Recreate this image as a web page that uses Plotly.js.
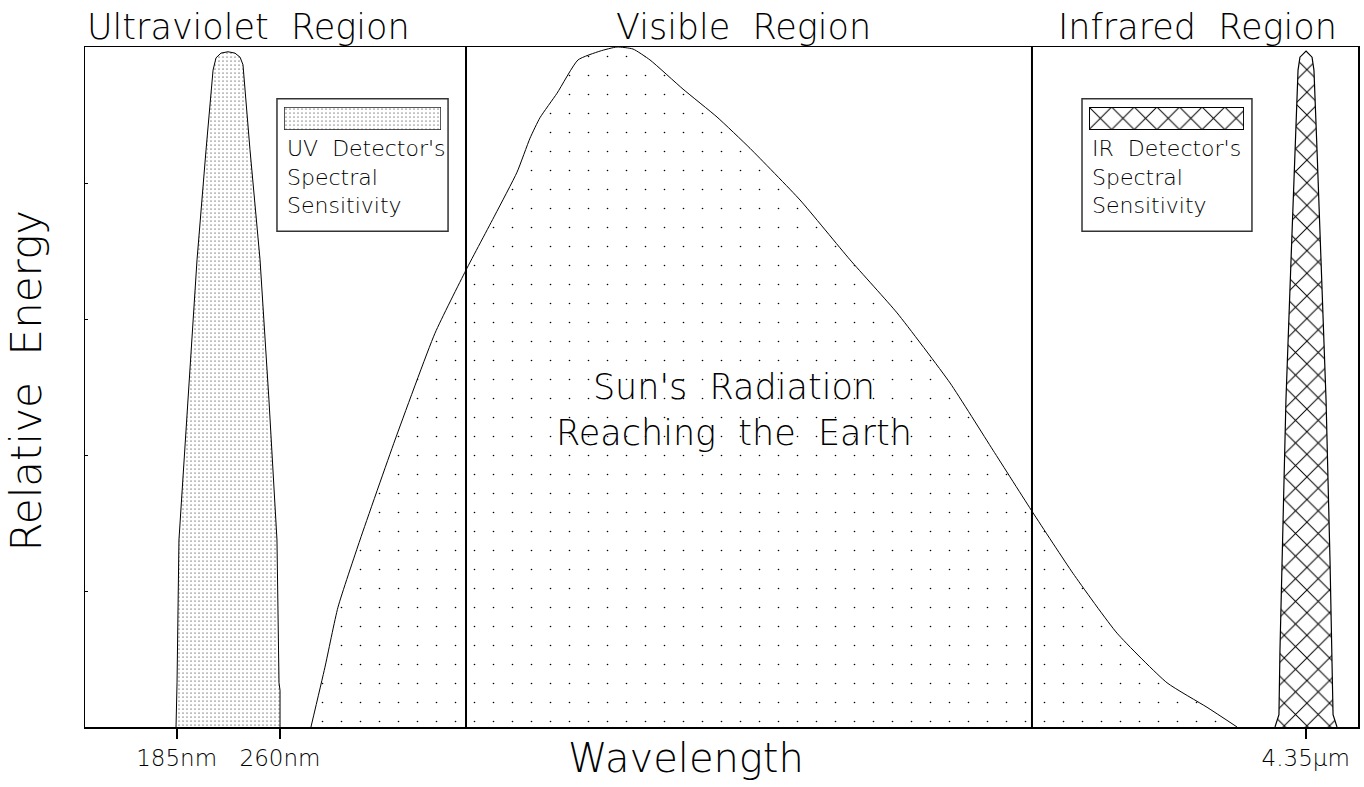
<!DOCTYPE html>
<html>
<head>
<meta charset="utf-8">
<script src="https://cdn.plot.ly/plotly-3.0.1.min.js"></script>
<style>
  html, body { margin: 0; padding: 0; background: #fff; }
  #chart { width: 1364px; height: 787px; }
</style>
</head>
<body>
<div id="chart"></div>
<script>
// Horizontal position along the (non-linear) wavelength axis, 0..1000 across the plot
// Relative energy, 0..100 (peak = 100)

// Sun's radiation reaching the Earth
const sunX = [177.5, 188.5, 198.7, 216.0, 243.5, 274.9, 299.3, 322.1, 339.4, 349.6, 357.4, 370.8, 387.3, 404.6, 417.9, 430.5, 443.8, 469.8, 496.5, 522.4, 561.7, 601.0, 637.9, 679.5, 713.3, 744.7, 776.1, 810.7, 850.0, 881.4, 905.0];
const sunY = [0, 8.8, 17.6, 27.5, 42.2, 57.9, 67.2, 75.3, 81.6, 86.6, 89.6, 93.2, 98.1, 99.4, 100, 99.7, 98.1, 93.8, 89.7, 85.1, 77.5, 68.7, 60.9, 50.6, 40.7, 31.5, 22.6, 13.8, 6.5, 2.9, 0];

// UV detector's spectral sensitivity (185nm - 260nm)
const uvX = [71.5, 72.3, 73.8, 80.9, 88.0, 95.1, 100.6, 102.9, 106.8, 112.3, 117.8, 121.8, 124.1, 129.6, 137.5, 144.5, 150.8, 152.4, 153.2, 153.2];
const uvY = [0, 6.5, 27.5, 48.1, 68.7, 84.9, 96.6, 98.4, 99.1, 99.3, 99.1, 98.5, 97.4, 84.9, 68.7, 48.1, 27.5, 6.5, 5.4, 0];

// IR detector's spectral sensitivity (4.35um)
const irX = [934.8, 937.9, 938.7, 940.3, 943.4, 947.4, 950.5, 952.9, 954.4, 959.2, 963.9, 965.4, 967.8, 970.9, 974.9, 978.0, 979.6, 980.4, 983.5];
const irY = [0, 1.8, 11.3, 24.6, 48.1, 68.7, 84.9, 96.6, 98.5, 99.4, 98.5, 96.6, 84.9, 68.7, 48.1, 24.6, 11.3, 1.8, 0];

// Axis tick marks and labels
const tickPos = [72.0, 153.2, 958.9];
const tickLabels = ['185nm', '260nm', '4.35\u03bcm'];
const energyTicks = [20, 40, 60, 80];

// Region boundaries and names
const regionEdges = [299.3, 743.9];
const regionNames = ['Ultraviolet  Region', 'Visible  Region', 'Infrared  Region'];

// Axis titles
const xTitle = 'Wavelength';
const yTitle = 'Relative  Energy';

// Legend key labels
const uvKeyText = "UV  Detector's<br>Spectral<br>Sensitivity";
const irKeyText = "IR  Detector's<br>Spectral<br>Sensitivity";
const sunText = "Sun's  Radiation<br>Reaching  the  Earth";

// unit square for legend swatches
const keyX = [0, 1, 1, 0, 0];
const keyY = [0, 0, 1, 1, 0];

const FONT = 'DejaVu Sans, Liberation Sans, sans-serif';
const FW = 200;

const uvPattern = { shape: '.', size: 4, solidity: 0.06, fgcolor: '#000', bgcolor: '#fff', fillmode: 'replace' };
const irPattern = { shape: 'x', size: 16, solidity: 0.12, fgcolor: '#000', bgcolor: '#fff', fillmode: 'replace' };
const sunPattern = { shape: '.', size: 19, solidity: 0.006, fgcolor: '#000', bgcolor: '#fff', fillmode: 'replace' };

const traces = [
  { x: sunX, y: sunY, type: 'scatter', mode: 'lines', fill: 'tozeroy',
    line: { color: '#000', width: 1, shape: 'spline', smoothing: 0.5 }, fillpattern: sunPattern, fillcolor: '#fff', hoverinfo: 'skip' },
  { x: uvX, y: uvY, type: 'scatter', mode: 'lines', fill: 'tozeroy',
    line: { color: '#000', width: 1 }, fillpattern: uvPattern, fillcolor: '#fff', hoverinfo: 'skip' },
  { x: irX, y: irY, type: 'scatter', mode: 'lines', fill: 'tozeroy',
    line: { color: '#000', width: 1.2 }, fillpattern: irPattern, fillcolor: '#fff', hoverinfo: 'skip' },
  { x: keyX, y: keyY, xaxis: 'x2', yaxis: 'y2', type: 'scatter', mode: 'lines', fill: 'toself',
    line: { color: '#222', width: 1.6 }, fillpattern: uvPattern, fillcolor: '#fff', hoverinfo: 'skip' },
  { x: keyX, y: keyY, xaxis: 'x3', yaxis: 'y3', type: 'scatter', mode: 'lines', fill: 'toself',
    line: { color: '#000', width: 2 }, fillpattern: irPattern, fillcolor: '#fff', hoverinfo: 'skip' }
];

const shapes = regionEdges.map(e => ({
  type: 'line', xref: 'x', yref: 'y', x0: e, x1: e, y0: 0, y1: 100,
  line: { color: '#000', width: 2 }
}));
shapes.push({ type: 'rect', xref: 'x', yref: 'y', x0: 150.8, x1: 285.2, y0: 72.9, y1: 92.4, line: { color: '#333', width: 1.5 } });
shapes.push({ type: 'rect', xref: 'x', yref: 'y', x0: 783.2, x1: 916.7, y0: 72.9, y1: 92.4, line: { color: '#333', width: 1.5 } });

const titleX = [128.8, 517.3, 873.9];
const annotations = regionNames.map((t, i) => ({
  text: t, x: titleX[i], xref: 'x', y: 1, yref: 'paper', yanchor: 'bottom', xanchor: 'center',
  showarrow: false, font: { family: FONT, size: 35, color: '#000', weight: FW }, yshift: -2
}));
annotations.push({ text: uvKeyText, x: 157.1, xref: 'x', y: 80.9, yref: 'y', xanchor: 'left', yanchor: 'middle', align: 'left',
  showarrow: false, font: { family: FONT, size: 22, color: '#000', weight: FW } });
annotations.push({ text: irKeyText, x: 789.5, xref: 'x', y: 80.9, yref: 'y', xanchor: 'left', yanchor: 'middle', align: 'left',
  showarrow: false, font: { family: FONT, size: 22, color: '#000', weight: FW } });
annotations.push({ text: sunText, x: 509.8, xref: 'x', y: 46.6, yref: 'y', xanchor: 'center', yanchor: 'middle', align: 'center',
  showarrow: false, font: { family: FONT, size: 35, color: '#000', weight: FW } });
// axis titles
annotations.push({ text: xTitle, x: 0.4721, xref: 'paper', y: -0.046, yref: 'paper', xanchor: 'center', yanchor: 'middle',
  showarrow: false, font: { family: FONT, size: 40, color: '#000', weight: FW } });
annotations.push({ text: yTitle, x: -0.0452, xref: 'paper', y: 0.5103, yref: 'paper', xanchor: 'center', yanchor: 'middle',
  textangle: -90, showarrow: false, font: { family: FONT, size: 42, color: '#000', weight: FW } });

const layout = {
  width: 1364, height: 787,
  margin: { l: 85, r: 6, t: 47, b: 60, pad: 0 },
  paper_bgcolor: '#fff', plot_bgcolor: '#fff',
  showlegend: false,
  font: { family: FONT, color: '#000', weight: FW },
  xaxis: {
    range: [0, 1000], showgrid: false, zeroline: false, fixedrange: true,
    showline: true, mirror: true, linecolor: '#000', linewidth: 1.5,
    tickmode: 'array', tickvals: tickPos, ticktext: tickLabels,
    ticks: 'outside', ticklen: 10, tickwidth: 2, tickcolor: '#000',
    tickfont: { family: FONT, size: 23, color: '#000', weight: FW }
  },
  yaxis: {
    range: [0, 100], showgrid: false, zeroline: false, fixedrange: true,
    showline: true, mirror: true, linecolor: '#000', linewidth: 1.5,
    tickmode: 'array', tickvals: energyTicks, showticklabels: false,
    ticks: 'inside', ticklen: 3, tickwidth: 1, tickcolor: '#000'
  },
  xaxis2: { domain: [0.1563, 0.2797], range: [0, 1], visible: false, fixedrange: true, anchor: 'y2' },
  yaxis2: { domain: [0.8779, 0.9118], range: [0, 1], visible: false, fixedrange: true, anchor: 'x2' },
  xaxis3: { domain: [0.7887, 0.9105], range: [0, 1], visible: false, fixedrange: true, anchor: 'y3' },
  yaxis3: { domain: [0.8779, 0.9118], range: [0, 1], visible: false, fixedrange: true, anchor: 'x3' },
  shapes: shapes,
  annotations: annotations
};

Plotly.newPlot('chart', traces, layout, { displayModeBar: false, staticPlot: true });
</script>
</body>
</html>
